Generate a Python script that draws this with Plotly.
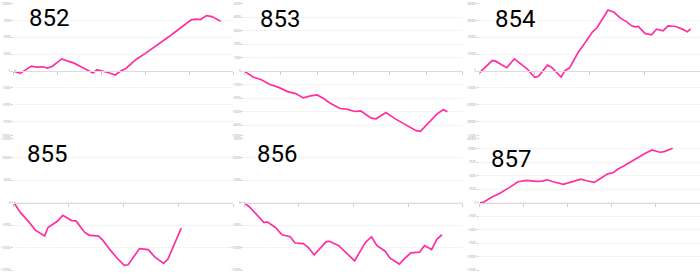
import plotly.graph_objects as go

# ---- data ----
labels = ["852", "853", "854", "855", "856", "857"]

x852 = [0, 1.4, 4.0, 5.1, 6.6, 7.6, 8.7, 10.9, 12.3, 13.7, 15.4, 17.0, 18.0, 18.9, 20.3, 21.6, 23.1,
        24.3, 25.5, 26.8, 27.9, 29.8, 31.4, 33.3, 35.2, 37.1, 38.8, 40.4, 41.6, 42.5, 43.9, 45.1, 47.1]
y852 = [0, -343, 735, 588, 637, 441, 686, 1813, 1470, 1176, 588, 0, -294, 196, 0, -245, -588,
        0, 392, 1078, 1764, 2548, 3283, 4067, 5047, 5978, 6762, 7595, 7693, 7644, 8232, 8085, 7399]

x853 = [0, 2.4, 4.7, 6.9, 9.6, 11.9, 14.1, 16.2, 18.2, 20.0, 21.8, 23.6, 26.3, 28.1, 30.4, 32.0,
        33.5, 34.9, 36.2, 38.9, 41.6, 43.8, 46.1, 47.2, 48.4, 50.6, 52.9, 54.7, 55.8]
y853 = [0, -442, -639, -983, -1229, -1523, -1671, -1990, -1843, -1769, -2039, -2383, -2776, -2826,
        -2998, -2948, -3243, -3489, -3538, -3071, -3563, -3907, -4251, -4423, -4472, -3808, -3194,
        -2850, -3022]

x854 = [0, 0.8, 2.3, 2.9, 3.8, 4.9, 6.3, 7.4, 8.6, 10.0, 10.7, 12.3, 13.1, 14.8, 15.5, 16.3, 17.9,
        19.2, 20.5, 21.3, 23.3, 24.4, 25.5, 26.7, 27.6, 28.2, 28.8, 30.0, 31.2, 32.1, 33.3, 34.2,
        35.6, 36.8, 37.7, 38.3]
y854 = [-980, 1372, 6272, 5880, 4116, 1960, 7252, 4508, 1372, -3724, -3136, 3528, 2156, -3528, 392,
        1764, 11172, 17052, 23324, 25676, 36260, 34888, 31556, 29204, 26852, 26264, 26460, 22344,
        21560, 24892, 23912, 26852, 26460, 24892, 23324, 25088]

x855 = [0, 1.2, 2.7, 3.9, 5.6, 6.2, 7.9, 8.9, 10.5, 11.3, 12.9, 13.7, 15.4, 16.1, 17.7, 18.7, 20.1,
        20.8, 22.9, 24.5, 25.7, 27.3, 28.1, 30.5]
y855 = [0, -2205, -4264, -6101, -7424, -5513, -4116, -2793, -3969, -4043, -6615, -7203, -7424,
        -8232, -10731, -12201, -13965, -13818, -10217, -10437, -12128, -13524, -12495, -5660]

x856 = [0, 0.9, 2.1, 3.6, 4.2, 5.7, 6.9, 8.4, 9.3, 10.8, 11.7, 12.8, 15.0, 15.6, 17.3, 18.6, 20.2,
        22.2, 23.3, 24.3, 25.8, 26.7, 28.4, 29.3, 30.5, 32.1, 33.0, 34.3, 35.3, 36.2]
y856 = [0, -882, -2426, -4410, -4263, -5513, -7130, -7571, -8967, -9114, -9923, -11613, -8673,
        -8600, -9555, -11172, -12936, -8820, -7571, -9555, -10805, -12348, -13671, -12495, -11172,
        -11025, -9555, -10437, -8085, -7130]

x857 = [0, 0.8, 2.7, 4.6, 6.8, 8.7, 10.6, 12.9, 14.1, 15.3, 16.7, 19.0, 20.5, 23.0, 24.3, 26.0,
        27.4, 29.1, 30.4, 31.3, 32.7, 34.2, 35.7, 37.6, 39.1, 40.9, 41.9, 43.8]
y857 = [0, 61, 1037, 1769, 2867, 3904, 4148, 3965, 4026, 4270, 3904, 3416, 3782, 4392, 4087, 3782,
        4514, 5368, 5612, 6222, 6832, 7564, 8357, 9211, 9821, 9394, 9516, 10126]

xs = [x852, x853, x854, x855, x856, x857]
ys = [y852, y853, y854, y855, y856, y857]
y_limits = [10000, 5000, 40000, 15000, 15000, 12500]
y_steps = [2500, 1000, 10000, 5000, 5000, 2500]
x_limits = [50, 60, 40, 40, 40, 50]
x_steps = [10, 10, 10, 10, 10, 10]

# ---- layout geometry ----
W, H = 700, 275
col_dom = [[12 / W, 232 / W], [243 / W, 462 / W], [479 / W, 1.0]]
row_dom = [[(H - 138.5) / H, (H - 1.7) / H], [(H - 272) / H, (H - 135.5) / H]]
# top-left of each label's text box, in pixels
label_pos = [(26, 1), (258, 2), (493, 2.5), (24, 139.5), (255, 139), (489, 144.5)]

LINE = "#ff2fa0"
fig = go.Figure()
layout = dict(
    width=W, height=H, margin=dict(l=0, r=0, t=0, b=0),
    paper_bgcolor="white", plot_bgcolor="white", showlegend=False,
)
annotations = []
for i in range(6):
    r, c = divmod(i, 3)
    n = i + 1
    xa = "x" if n == 1 else f"x{n}"
    ya = "y" if n == 1 else f"y{n}"
    fig.add_trace(go.Scatter(x=xs[i], y=ys[i], mode="lines", xaxis=xa, yaxis=ya,
                             line=dict(color=LINE, width=1.7), hoverinfo="skip"))
    mid = (row_dom[r][0] + row_dom[r][1]) / 2
    layout["xaxis" if n == 1 else f"xaxis{n}"] = dict(
        domain=col_dom[c], anchor="free", position=mid, range=[0, x_limits[i]],
        dtick=x_steps[i], showgrid=False, zeroline=False, showline=True,
        linecolor="#dcdcdc", linewidth=1, ticks="outside", ticklen=3, tickcolor="#cccccc",
        showticklabels=False,
    )
    layout["yaxis" if n == 1 else f"yaxis{n}"] = dict(
        domain=row_dom[r], anchor=xa, range=[-y_limits[i], y_limits[i]], dtick=y_steps[i],
        tickformat="d", showgrid=True, gridcolor="#f3f3f3", gridwidth=1, zeroline=False,
        showline=False, ticks="outside", ticklen=2, tickcolor="#d0d0d0",
        tickfont=dict(size=3, color="#9a9a9a", family="Open Sans"),
    )
    lx, ly = label_pos[i]
    annotations.append(dict(text=labels[i], x=lx / W, y=(H - ly) / H, xref="paper", yref="paper",
                            xanchor="left", yanchor="top", showarrow=False, borderpad=0,
                            font=dict(size=24, color="black", family="Roboto")))
layout["annotations"] = annotations
fig.update_layout(**layout)
fig.write_html("out.html")
